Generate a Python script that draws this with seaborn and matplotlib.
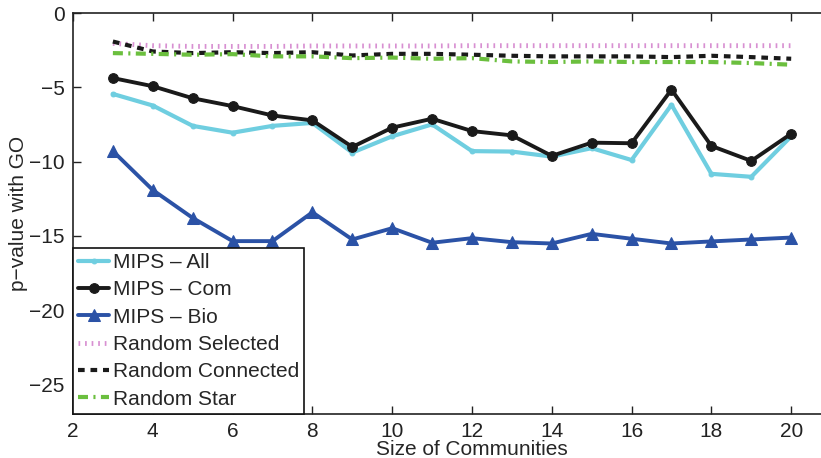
import numpy as np
import pandas as pd
import seaborn as sns
import matplotlib
matplotlib.use("Agg")
import matplotlib.pyplot as plt

# Community sizes
sizes = [3, 4, 5, 6, 7, 8, 9, 10, 11, 12, 13, 14, 15, 16, 17, 18, 19, 20]

# log p-values of GO enrichment per series
mips_all = [-5.45, -6.23, -7.6, -8.06, -7.6, -7.4, -9.4, -8.3, -7.5,
            -9.3, -9.33, -9.67, -9.1, -9.9, -6.18, -10.83, -11.03, -8.3]
mips_com = [-4.38, -4.93, -5.74, -6.27, -6.9, -7.23, -9.02, -7.72, -7.12,
            -7.95, -8.24, -9.62, -8.73, -8.77, -5.16, -8.95, -9.96, -8.13]
mips_bio = [-9.3, -11.92, -13.8, -15.36, -15.36, -13.42, -15.25, -14.49, -15.47,
            -15.16, -15.43, -15.52, -14.87, -15.2, -15.52, -15.38, -15.25, -15.12]
rand_selected = [-2.05, -2.2, -2.25, -2.25, -2.25, -2.22, -2.22, -2.22, -2.22,
                 -2.2, -2.2, -2.2, -2.2, -2.2, -2.2, -2.2, -2.2, -2.2]
rand_connected = [-1.92, -2.59, -2.7, -2.64, -2.7, -2.64, -2.86, -2.75, -2.75,
                  -2.81, -2.88, -2.92, -2.92, -2.92, -2.97, -2.88, -2.97, -3.08]
rand_star = [-2.7, -2.75, -2.81, -2.77, -2.92, -2.92, -3.04, -3.0, -3.08,
             -3.04, -3.26, -3.3, -3.26, -3.3, -3.3, -3.3, -3.37, -3.48]

labels = ["MIPS \u2013 All", "MIPS \u2013 Com", "MIPS \u2013 Bio",
          "Random Selected", "Random Connected", "Random Star"]
x_ticks = [2, 4, 6, 8, 10, 12, 14, 16, 18, 20]
y_ticks = [0, -5, -10, -15, -20, -25]

sns.set_style("ticks")
plt.rcParams["font.family"] = ["Liberation Sans", "DejaVu Sans"]
plt.rcParams["font.size"] = 15
plt.rcParams["axes.unicode_minus"] = True

fig = plt.figure(figsize=(8.21, 4.58), dpi=100)
ax = fig.add_axes([0.0889, 0.0961, 0.972, 0.8755])

styles = [
    dict(color="#6FCEE0", lw=3.0, marker="o", markersize=3.5, ls="-"),
    dict(color="#1a1a1a", lw=2.8, marker="o", markersize=7, ls="-"),
    dict(color="#2B52A6", lw=2.8, marker="^", markersize=9, ls="-"),
    dict(color="#D890D2", lw=3.5, ls=(0, (0.35, 1.0))),
    dict(color="#1a1a1a", lw=3.0, ls=(0, (1.6, 1.4))),
    dict(color="#6BBF3E", lw=3.0, ls=(0, (2.4, 1.3, 0.5, 1.3))),
]
series = [mips_all, mips_com, mips_bio, rand_selected, rand_connected, rand_star]

for vals, lab, st in zip(series, labels, styles):
    df = pd.DataFrame({"size": sizes, "p": vals})
    sns.lineplot(data=df, x="size", y="p", ax=ax, label=lab,
                 color=st["color"], linewidth=st["lw"], linestyle=st["ls"],
                 marker=st.get("marker", None),
                 markersize=st.get("markersize", 0),
                 markeredgecolor=st["color"], markerfacecolor=st["color"])

ax.set_xlim(2, 22)
ax.set_ylim(-27, 0)
ax.set_xticks(x_ticks)
ax.set_yticks(y_ticks)
ax.set_xlabel("Size of Communities", fontsize=15, labelpad=-1)
ax.set_ylabel("p\u2212value with GO", fontsize=15, labelpad=1)
ax.tick_params(direction="in", length=6, width=1, top=True, right=True,
               labelsize=15, colors="#222222", pad=6)
for sp in ax.spines.values():
    sp.set_linewidth(1.2)
    sp.set_color("#222222")

leg = ax.legend(loc="lower left", borderaxespad=0, frameon=True, fancybox=False,
                framealpha=1, edgecolor="#111111", handlelength=1.5,
                handletextpad=0.15, labelspacing=0.40, borderpad=0.25,
                fontsize=15)
leg.get_frame().set_linewidth(1.2)

fig.savefig("out.png", dpi=100)
